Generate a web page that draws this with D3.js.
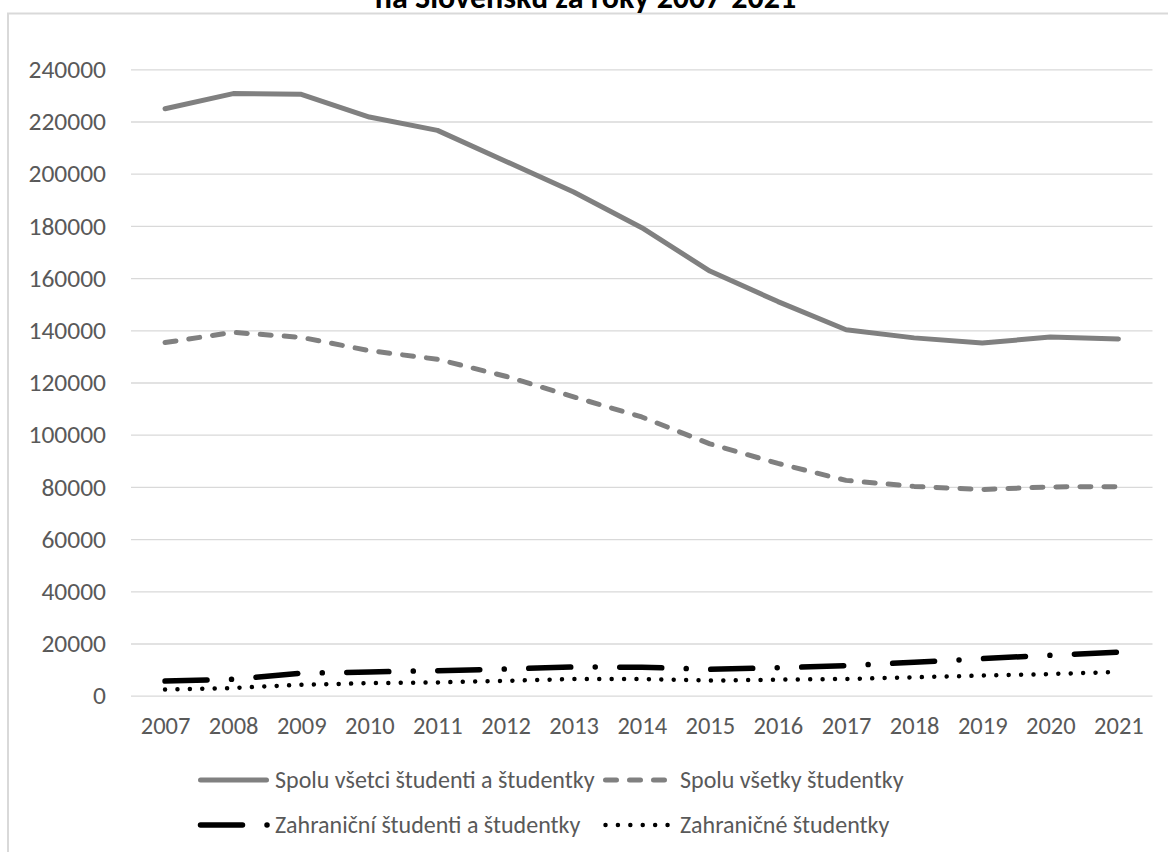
<!DOCTYPE html>
<html>
<head>
<meta charset="utf-8">
<script src="https://cdn.jsdelivr.net/npm/d3@7"></script>
<style>
  body { margin: 0; background: #ffffff; }
  svg { display: block; }
  text { font-family: Calibri, Carlito, Lato, sans-serif; }
</style>
</head>
<body>
<svg id="chart" width="1168" height="852"></svg>
<script>
// Počty študentov vysokých škôl, 2007–2021
const years = [2007, 2008, 2009, 2010, 2011, 2012, 2013, 2014, 2015, 2016, 2017, 2018, 2019, 2020, 2021];
const spoluVsetci = [224900, 230700, 230400, 221700, 216600, 204800, 193000, 179300, 162700, 151000, 140200, 137100, 135100, 137400, 136700];
const spoluVsetky = [135300, 139200, 137300, 132200, 128900, 122400, 114500, 106800, 96500, 89000, 82500, 80200, 79000, 80000, 80100];
const zahranicni = [5600, 6300, 8600, 9100, 9600, 10200, 11000, 10900, 10100, 10700, 11500, 12800, 14200, 15500, 16700];
const zahranicne = [2400, 2950, 4200, 4800, 5100, 5700, 6400, 6400, 5800, 6150, 6400, 7050, 7700, 8300, 9100];
const yTicks = [0, 20000, 40000, 60000, 80000, 100000, 120000, 140000, 160000, 180000, 200000, 220000, 240000];
const titleText = "na Slovensku za roky 2007-2021";

const series = [
  { name: "Spolu všetci študenti a študentky", values: spoluVsetci, color: "#808080", width: 5, dash: null },
  { name: "Spolu všetky študentky", values: spoluVsetky, color: "#808080", width: 5, dash: "11,13" },
  { name: "Zahraniční študenti a študentky", values: zahranicni, color: "#000000", width: 5.5, dash: "42,24.5,0.01,24.5" },
  { name: "Zahraničné študentky", values: zahranicne, color: "#000000", width: 4.5, dash: "0.01,12.4" }
];

const svg = d3.select("#chart");
const plot = { left: 131, right: 1152.5, top: 69.3, bottom: 695.7 };
const labelFont = "Calibri, Carlito, Lato, sans-serif";
const labelColor = "#595959";

const x = d3.scalePoint().domain(years).range([plot.left, plot.right]).padding(0.5);
const y = d3.scaleLinear().domain([0, 240000]).range([plot.bottom, plot.top]);

// chart frame
svg.append("rect")
  .attr("x", 8).attr("y", 13.5)
  .attr("width", 1300).attr("height", 1000)
  .attr("fill", "none").attr("stroke", "#d9d9d9").attr("stroke-width", 2);

// title (second line of the heading)
svg.append("text")
  .attr("x", 585.5).attr("y", 8)
  .attr("text-anchor", "middle")
  .attr("font-weight", "bold")
  .attr("font-size", 32)
  .attr("fill", "#000000")
  .text(titleText);

// horizontal gridlines
const grid = svg.append("g")
  .attr("transform", `translate(${plot.left},0)`)
  .call(d3.axisLeft(y).tickValues(yTicks).tickSize(-(plot.right - plot.left)).tickFormat(""));
grid.select(".domain").remove();
grid.selectAll(".tick line").attr("stroke", "#d9d9d9").attr("stroke-width", 1.3);

// y axis labels
const yAxis = svg.append("g")
  .attr("transform", `translate(${plot.left},0)`)
  .call(d3.axisLeft(y).tickValues(yTicks).tickSize(0).tickPadding(25).tickFormat(d3.format("d")));
yAxis.select(".domain").remove();
yAxis.selectAll("text")
  .attr("font-family", labelFont)
  .attr("font-size", 25.5).attr("fill", labelColor);

// x axis labels
const xAxis = svg.append("g")
  .attr("transform", `translate(0,${plot.bottom})`)
  .call(d3.axisBottom(x).tickSize(0).tickPadding(21));
xAxis.select(".domain").remove();
xAxis.selectAll("text")
  .attr("font-family", labelFont)
  .attr("font-size", 24.5).attr("fill", labelColor);

// series lines
const line = d3.line()
  .x((d, i) => x(years[i]))
  .y(d => y(d));

svg.append("g").selectAll("path")
  .data(series)
  .join("path")
  .attr("d", s => line(s.values))
  .attr("fill", "none")
  .attr("stroke", s => s.color)
  .attr("stroke-width", s => s.width)
  .attr("stroke-linecap", "round")
  .attr("stroke-linejoin", "round")
  .attr("stroke-dasharray", s => s.dash);

// legend: two columns, two rows
const legendPos = [
  { x: 200.5, y: 780 },
  { x: 605.5, y: 780 },
  { x: 200.5, y: 825 },
  { x: 605.5, y: 825 }
];
const swatchLen = [66, 62, 67, 63];
const legend = svg.append("g").selectAll("g")
  .data(series)
  .join("g")
  .attr("transform", (s, i) => `translate(${legendPos[i].x},${legendPos[i].y})`);

legend.append("path")
  .attr("d", (s, i) => `M0,0H${swatchLen[i]}`)
  .attr("fill", "none")
  .attr("stroke", s => s.color)
  .attr("stroke-width", s => s.width)
  .attr("stroke-linecap", "round")
  .attr("stroke-dasharray", s => s.dash);

legend.append("text")
  .attr("x", 74.5)
  .attr("y", 0)
  .attr("dy", "0.35em")
  .attr("font-size", 24)
  .attr("fill", labelColor)
  .text(s => s.name);
</script>
</body>
</html>
